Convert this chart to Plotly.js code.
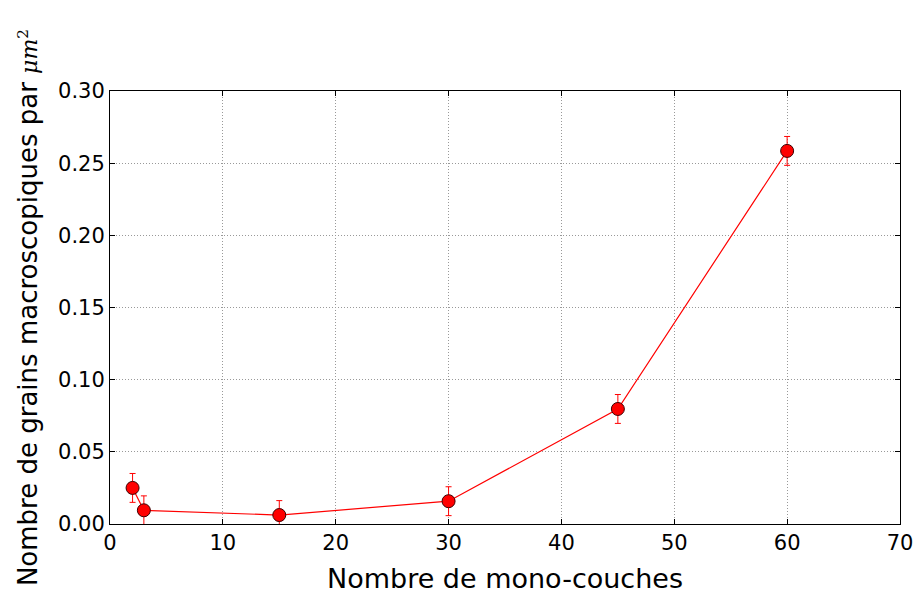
<!DOCTYPE html>
<html>
<head>
<meta charset="utf-8">
<script src="https://cdn.plot.ly/plotly-3.0.1.min.js"></script>
<style>html,body{margin:0;padding:0;background:#fff;}#chart{width:916px;height:594px;}</style>
</head>
<body>
<div id="chart"></div>
<script>
const monolayers = [2, 3, 15, 30, 45, 60];
const grains = [0.025, 0.0095, 0.0062, 0.0158, 0.0797, 0.2585];
const errors = [0.01, 0.01, 0.01, 0.01, 0.01, 0.01];
const xTicks = [0, 10, 20, 30, 40, 50, 60, 70];
const yTicks = [0, 0.05, 0.10, 0.15, 0.20, 0.25, 0.30];
const yTickText = ['0.00','0.05','0.10','0.15','0.20','0.25','0.30'];

const trace = {
  x: monolayers, y: grains, type: 'scatter', mode: 'lines+markers',
  line: {color: 'rgb(255,0,0)', width: 1.2},
  marker: {color: 'rgb(255,0,0)', size: 13, line: {color: 'rgb(60,0,0)', width: 1}},
  error_y: {type: 'data', array: errors, visible: true, color: 'rgb(255,0,0)', thickness: 1, width: 3},
  cliponaxis: false
};

const layout = {
  width: 916, height: 594,
  margin: {l: 110, r: 16, t: 91, b: 70},
  paper_bgcolor: '#fff', plot_bgcolor: '#fff',
  font: {family: 'DejaVu Sans', color: '#000'},
  showlegend: false,
  xaxis: {
    range: [0, 70], tickvals: xTicks, ticktext: xTicks.map(String),
    showgrid: true, gridcolor: '#999', griddash: '1px,2px', gridwidth: 1,
    zeroline: false, showline: true, linecolor: '#000', linewidth: 1, mirror: 'ticks',
    ticks: 'inside', ticklen: 5, tickcolor: '#000',
    tickfont: {size: 21, family: 'DejaVu Sans'},
    title: {text: 'Nombre de mono-couches', font: {size: 27, family: 'DejaVu Sans'}, standoff: 15}
  },
  yaxis: {
    range: [0, 0.30], tickvals: yTicks, ticktext: yTickText,
    showgrid: true, gridcolor: '#999', griddash: '1px,2px', gridwidth: 1,
    zeroline: false, showline: true, linecolor: '#000', linewidth: 1, mirror: 'ticks',
    ticks: 'inside', ticklen: 5, tickcolor: '#000',
    tickfont: {size: 21, family: 'DejaVu Sans'},
    title: {text: 'Nombre de grains macroscopiques par <span style="font-family:DejaVu Serif;font-size:22px"><i>μm</i><sup>2</sup></span>', font: {size: 26, family: 'DejaVu Sans'}, standoff: 12}
  }
};

Plotly.newPlot('chart', [trace], layout, {displayModeBar: false, staticPlot: true});
</script>
</body>
</html>
